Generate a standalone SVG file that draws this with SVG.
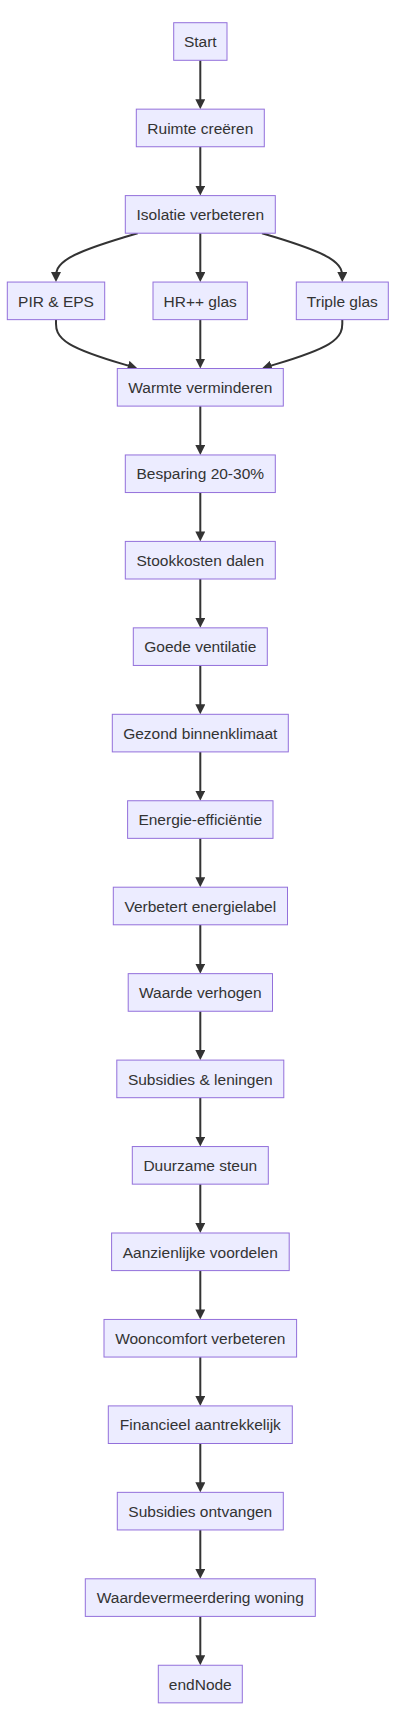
<svg xmlns="http://www.w3.org/2000/svg" width="404" height="1726" viewBox="0 0 404 1726">
<style>
.node rect{fill:#ECECFF;stroke:#9370DB;stroke-width:1px;}
.node text{font-family:"Liberation Sans",Arial,sans-serif;font-size:15.5px;fill:#333333;text-anchor:middle;}
.edge{fill:none;stroke:#333333;stroke-width:2px;marker-end:url(#arrow);}
</style>
<defs>
<marker id="arrow" viewBox="0 0 10 10" refX="5" refY="5" markerUnits="userSpaceOnUse" markerWidth="10" markerHeight="10" orient="auto">
<path d="M0,0 L10,5 L0,10 z" fill="#333333"/>
</marker>
</defs>
<rect width="404" height="1726" fill="#ffffff"/>
<g id="connectors">
<path class="edge" d="M200.3,60.3 L200.3,104.15"/>
<path class="edge" d="M200.3,146.75 L200.3,190.6"/>
<path class="edge" d="M137.65,233.2 L124.1,237.3 C110.55,241.4 83.2,249.6 69.6,257.7 C56,266 56,272 56,277.05"/>
<path class="edge" d="M200.3,233.2 L200.3,277.05"/>
<path class="edge" d="M262,233.2 L275.4,237.3 C288.8,241.4 315.5,249.6 328.9,257.7 C342.3,266 342.3,272 342.3,277.05"/>
<path class="edge" d="M56,319.65 L56,323.7 C56,327.8 56,336 69.6,344.1 C83.2,352.2 110.4,360.4 124,364.4 L132.8,367.05"/>
<path class="edge" d="M200.3,319.65 L200.3,363.5"/>
<path class="edge" d="M342.3,319.65 L342.3,323.7 C342.3,327.8 342.3,336 328.9,344.1 C315.5,352.2 288.6,360.4 275.2,364.4 L266.6,367.05"/>
<path class="edge" d="M200.3,406.1 L200.3,449.95"/>
<path class="edge" d="M200.3,492.55 L200.3,536.4"/>
<path class="edge" d="M200.3,579 L200.3,622.85"/>
<path class="edge" d="M200.3,665.45 L200.3,709.3"/>
<path class="edge" d="M200.3,751.9 L200.3,795.75"/>
<path class="edge" d="M200.3,838.35 L200.3,882.2"/>
<path class="edge" d="M200.3,924.8 L200.3,968.65"/>
<path class="edge" d="M200.3,1011.25 L200.3,1055.1"/>
<path class="edge" d="M200.3,1097.7 L200.3,1141.55"/>
<path class="edge" d="M200.3,1184.15 L200.3,1228"/>
<path class="edge" d="M200.3,1270.6 L200.3,1314.45"/>
<path class="edge" d="M200.3,1357.05 L200.3,1400.9"/>
<path class="edge" d="M200.3,1443.5 L200.3,1487.35"/>
<path class="edge" d="M200.3,1529.95 L200.3,1573.8"/>
<path class="edge" d="M200.3,1616.4 L200.3,1660.25"/>
</g>
<g id="start" class="node"><rect x="173.7" y="22.7" width="53.3" height="37.6"/><text x="200.3" y="47.2">Start</text></g>
<g id="ruimte" class="node"><rect x="136.3" y="109.15" width="128" height="37.6"/><text x="200.3" y="133.65">Ruimte creëren</text></g>
<g id="isolatie" class="node"><rect x="125.3" y="195.6" width="150" height="37.6"/><text x="200.3" y="220.1">Isolatie verbeteren</text></g>
<g id="pir" class="node"><rect x="7.3" y="282.05" width="97.4" height="37.6"/><text x="56" y="306.55">PIR &amp; EPS</text></g>
<g id="hr" class="node"><rect x="153" y="282.05" width="94.3" height="37.6"/><text x="200.15" y="306.55">HR++ glas</text></g>
<g id="triple" class="node"><rect x="296.3" y="282.05" width="92" height="37.6"/><text x="342.3" y="306.55">Triple glas</text></g>
<g id="warmte" class="node"><rect x="117.3" y="368.5" width="166" height="37.6"/><text x="200.3" y="393">Warmte verminderen</text></g>
<g id="besparing" class="node"><rect x="125.3" y="454.95" width="150" height="37.6"/><text x="200.3" y="479.45">Besparing 20-30%</text></g>
<g id="stookkosten" class="node"><rect x="125.3" y="541.4" width="150" height="37.6"/><text x="200.3" y="565.9">Stookkosten dalen</text></g>
<g id="ventilatie" class="node"><rect x="133.3" y="627.85" width="134" height="37.6"/><text x="200.3" y="652.35">Goede ventilatie</text></g>
<g id="binnenklimaat" class="node"><rect x="112.3" y="714.3" width="176" height="37.6"/><text x="200.3" y="738.8">Gezond binnenklimaat</text></g>
<g id="efficientie" class="node"><rect x="127.6" y="800.75" width="145.4" height="37.6"/><text x="200.3" y="825.25">Energie-efficiëntie</text></g>
<g id="energielabel" class="node"><rect x="113.3" y="887.2" width="174.2" height="37.6"/><text x="200.3" y="911.7">Verbetert energielabel</text></g>
<g id="waarde" class="node"><rect x="128.2" y="973.65" width="144.3" height="37.6"/><text x="200.3" y="998.15">Waarde verhogen</text></g>
<g id="subsidies" class="node"><rect x="116.8" y="1060.1" width="167" height="37.6"/><text x="200.3" y="1084.6">Subsidies &amp; leningen</text></g>
<g id="duurzame" class="node"><rect x="132.3" y="1146.55" width="136" height="37.6"/><text x="200.3" y="1171.05">Duurzame steun</text></g>
<g id="aanzienlijke" class="node"><rect x="111.6" y="1233" width="177.6" height="37.6"/><text x="200.3" y="1257.5">Aanzienlijke voordelen</text></g>
<g id="wooncomfort" class="node"><rect x="104" y="1319.45" width="192.6" height="37.6"/><text x="200.3" y="1343.95">Wooncomfort verbeteren</text></g>
<g id="financieel" class="node"><rect x="108.3" y="1405.9" width="184" height="37.6"/><text x="200.3" y="1430.4">Financieel aantrekkelijk</text></g>
<g id="ontvangen" class="node"><rect x="117.3" y="1492.35" width="166" height="37.6"/><text x="200.3" y="1516.85">Subsidies ontvangen</text></g>
<g id="waardevermeerdering" class="node"><rect x="85.3" y="1578.8" width="230" height="37.6"/><text x="200.3" y="1603.3">Waardevermeerdering woning</text></g>
<g id="endNode" class="node"><rect x="158.3" y="1665.25" width="84" height="37.6"/><text x="200.3" y="1689.75">endNode</text></g>
</svg>
